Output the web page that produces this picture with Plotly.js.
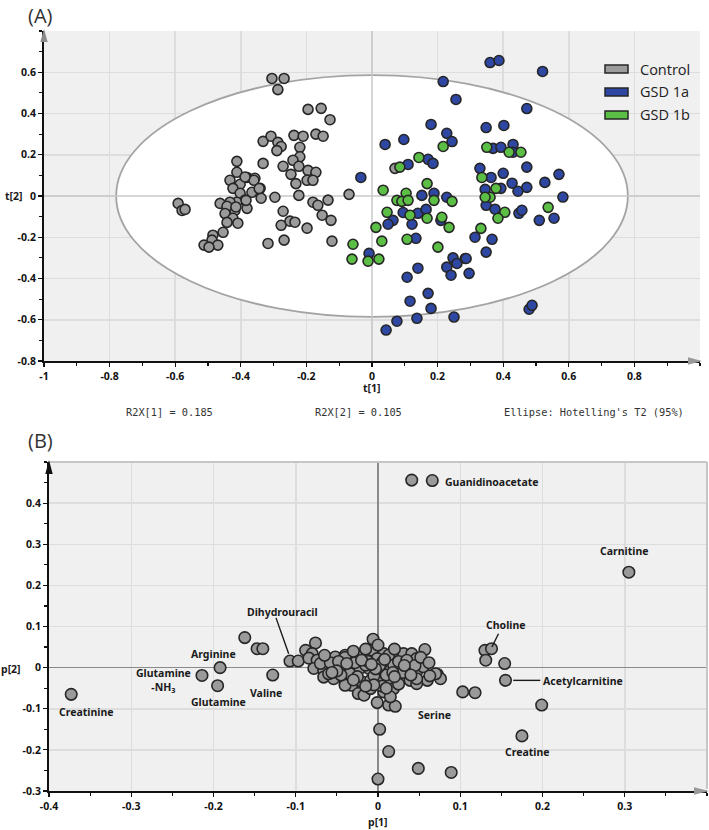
<!DOCTYPE html>
<html>
<head>
<meta charset="utf-8">
<script src="https://cdn.plot.ly/plotly-3.0.1.min.js"></script>
<style>html,body{margin:0;padding:0;background:#fff;}#chart{width:709px;height:830px;}</style>
</head>
<body>
<div id="chart"></div>
<script>
// ---------- Panel A: scores t[1] / t[2] ----------
const groupNames = ["Control", "GSD 1a", "GSD 1b"];
const groupColors = ["#9b9b9b", "#2e47a3", "#5cbf45"];

const controlT1 = [-0.305,-0.268,-0.287,-0.195,-0.155,-0.128,-0.332,-0.308,-0.287,-0.277,-0.290,-0.238,-0.210,-0.171,-0.149,-0.220,-0.220,-0.412,-0.412,-0.332,-0.271,-0.241,-0.223,-0.247,-0.232,-0.195,-0.171,-0.198,-0.180,-0.433,-0.402,-0.424,-0.381,-0.357,-0.360,-0.341,-0.366,-0.402,-0.338,-0.387,-0.412,-0.381,-0.418,-0.433,-0.463,-0.442,-0.448,-0.424,-0.409,-0.442,-0.454,-0.485,-0.488,-0.470,-0.512,-0.497,-0.591,-0.579,-0.570,-0.296,-0.223,-0.271,-0.277,-0.250,-0.235,-0.198,-0.180,-0.165,-0.134,-0.152,-0.125,-0.317,-0.268,-0.122,-0.070,0.070,-0.387,-0.344,-0.384,-0.415];
const controlT2 = [0.570,0.570,0.516,0.420,0.425,0.370,0.265,0.290,0.260,0.240,0.220,0.294,0.290,0.300,0.290,0.236,0.190,0.168,0.115,0.158,0.144,0.173,0.144,0.105,0.060,0.124,0.115,0.076,0.076,0.076,0.057,0.037,0.090,0.086,0.076,0.037,0.018,0.013,-0.011,-0.020,-0.030,-0.060,-0.070,-0.030,-0.036,-0.050,-0.085,-0.108,-0.132,-0.128,-0.176,-0.190,-0.214,-0.238,-0.238,-0.248,-0.036,-0.070,-0.065,-0.006,0.003,-0.074,-0.142,-0.122,-0.127,-0.156,-0.030,-0.045,-0.020,-0.093,-0.118,-0.230,-0.214,-0.219,0.008,0.134,0.092,0.036,-0.021,-0.053];

const gsd1aT1 = [0.360,0.387,0.520,0.217,0.256,0.472,0.180,0.348,0.402,0.040,0.097,0.228,0.244,0.171,0.186,0.110,0.369,0.393,0.430,0.430,0.472,0.329,0.363,0.400,0.427,0.445,0.472,0.527,0.570,0.582,0.345,0.393,0.348,0.375,0.448,0.457,0.510,0.555,-0.034,0.152,0.189,0.228,0.095,0.064,0.049,0.122,0.140,0.165,0.210,0.134,0.314,0.366,0.348,-0.009,0.107,0.140,0.247,0.259,0.284,0.228,0.241,0.171,0.116,0.180,0.137,0.076,0.043,0.250,0.287,0.296,0.479,0.488];
const gsd1aT2 = [0.647,0.657,0.604,0.555,0.468,0.424,0.347,0.332,0.342,0.250,0.274,0.304,0.264,0.178,0.158,0.153,0.231,0.236,0.250,0.212,0.140,0.134,0.090,0.110,0.062,0.023,0.042,0.066,0.105,-0.005,0.032,0.037,-0.045,-0.064,-0.084,-0.069,-0.118,-0.108,0.090,0.003,0.013,-0.006,-0.080,-0.118,-0.137,-0.137,-0.084,-0.065,-0.118,-0.205,-0.200,-0.210,-0.272,-0.278,-0.394,-0.350,-0.300,-0.327,-0.303,-0.345,-0.384,-0.472,-0.510,-0.545,-0.593,-0.607,-0.650,-0.587,-0.303,-0.375,-0.549,-0.530];

const gsd1bT1 = [0.217,0.143,0.085,0.034,0.168,0.104,0.076,0.091,0.110,0.189,0.244,0.046,0.116,0.168,0.213,0.235,0.012,0.030,0.107,0.201,-0.058,-0.061,-0.012,0.021,0.350,0.418,0.454,0.335,0.378,0.360,0.345,0.405,0.384,0.537,0.332];
const gsd1bT2 = [0.240,0.187,0.140,0.028,0.060,0.013,-0.021,-0.026,-0.021,-0.021,-0.026,-0.079,-0.093,-0.108,-0.103,-0.152,-0.152,-0.219,-0.210,-0.248,-0.234,-0.306,-0.316,-0.306,0.236,0.212,0.212,0.090,0.037,-0.006,-0.006,-0.079,-0.108,-0.055,-0.157];

const t1TickVals = [-1,-0.8,-0.6,-0.4,-0.2,0,0.2,0.4,0.6,0.8];
const t1TickText = ["-1","-0.8","-0.6","-0.4","-0.2","0","0.2","0.4","0.6","0.8"];
const t2TickVals = [-0.8,-0.6,-0.4,-0.2,0,0.2,0.4,0.6];
const t2TickText = ["-0.8","-0.6","-0.4","-0.2","0","0.2","0.4","0.6"];
const ellipseSemiAxes = [0.78, 0.586];
const footnotes = ["R2X[1] = 0.185", "R2X[2] = 0.105", "Ellipse: Hotelling's T2 (95%)"];

// ---------- Panel B: loadings p[1] / p[2] ----------
const loadP1 = [0.041,0.066,0.305,-0.373,-0.214,-0.192,-0.195,-0.162,-0.147,-0.140,-0.128,-0.107,-0.097,0.130,0.138,0.131,0.154,0.155,0.103,0.118,0.199,0.175,0.002,0.013,0.049,0.089,0.000,-0.001,0.013,0.021,0.072,0.076,
 -0.076,-0.006,0.057,-0.088,-0.080,-0.084,-0.074,-0.062,-0.052,-0.040,-0.032,-0.019,-0.010,-0.001,0.007,0.017,0.031,0.041,0.047,0.055,0.070,-0.078,-0.066,-0.054,-0.044,-0.034,-0.022,-0.011,0.001,0.011,0.023,0.037,0.047,0.060,-0.066,-0.054,-0.040,-0.032,-0.019,-0.009,0.003,0.015,0.027,0.039,0.047,-0.024,-0.017,-0.009,0.007,0.019,0.015,-0.040,-0.034,-0.022,-0.015,-0.007,-0.001,0.003,0.013,0.019,0.047,0.055,-0.040,
 -0.070,-0.058,-0.048,-0.028,-0.012,0.005,0.025,0.035,-0.005,0.010,0.030,-0.025,-0.045,0.000,0.002,-0.003,0.005,-0.005,0.025,-0.060,0.045,0.063,0.000,-0.015,0.020,-0.030,
 -0.050,-0.038,-0.020,-0.008,0.008,0.018,0.032,0.040,-0.015,0.010,-0.030,0.020,0.052,0.062,-0.065,-0.056];
const loadP2 = [0.456,0.455,0.232,-0.065,-0.019,0.000,-0.044,0.073,0.046,0.046,-0.018,0.016,0.016,0.042,0.046,0.018,0.010,-0.031,-0.059,-0.061,-0.091,-0.166,-0.150,-0.204,-0.245,-0.255,-0.271,-0.085,-0.091,-0.094,-0.016,-0.027,
 0.060,0.069,0.044,0.042,0.034,0.023,0.018,0.022,0.026,0.030,0.023,0.030,0.034,0.042,0.034,0.030,0.034,0.034,0.022,0.006,-0.015,-0.002,-0.007,-0.002,0.002,-0.010,-0.002,-0.002,-0.007,-0.002,-0.002,-0.004,-0.010,-0.031,-0.023,-0.027,-0.039,-0.043,-0.035,-0.031,-0.035,-0.031,-0.027,-0.031,-0.039,-0.063,-0.067,-0.051,-0.059,-0.051,-0.071,0.025,-0.015,0.026,0.006,0.042,0.022,-0.010,0.030,0.006,-0.027,0.002,-0.043,
 0.010,0.012,0.015,0.012,0.015,0.012,0.015,0.018,-0.020,-0.018,-0.012,-0.022,-0.018,0.000,0.005,-0.003,-0.045,-0.042,-0.040,-0.015,0.005,-0.020,0.055,0.045,0.045,0.040,
 -0.008,0.010,0.018,0.008,0.020,-0.012,0.005,-0.018,-0.045,-0.050,-0.030,-0.022,0.025,0.012,0.030,-0.012];

const p1TickVals = [-0.4,-0.3,-0.2,-0.1,0,0.1,0.2,0.3];
const p1TickText = ["-0.4","-0.3","-0.2","-0.1","0","0.1","0.2","0.3"];
const p2TickVals = [-0.3,-0.2,-0.1,0,0.1,0.2,0.3,0.4];
const p2TickText = ["-0.3","-0.2","-0.1","0","0.1","0.2","0.3","0.4"];

// labels: [text, p1, p2, xanchor]
const metaboliteLabels = [
  ["Guanidinoacetate", 0.0785, 0.451, "left"],
  ["Carnitine", 0.2996, 0.2826, "center"],
  ["Dihydrouracil", -0.1157, 0.1349, "center"],
  ["Arginine", -0.2001, 0.0322, "center"],
  ["Glutamine<br>-NH<sub>3</sub>", -0.2603, -0.0325, "center"],
  ["Glutamine", -0.1943, -0.084, "center"],
  ["Valine", -0.136, -0.0613, "center"],
  ["Creatinine", -0.355, -0.109, "center"],
  ["Choline", 0.1555, 0.104, "center"],
  ["Acetylcarnitine", 0.1984, -0.032, "left"],
  ["Serine", 0.0688, -0.1155, "center"],
  ["Creatine", 0.1823, -0.204, "center"]
];
// leader lines: [p1a, p2a, p1b, p2b]
const leaderLines = [
  [-0.124, 0.121, -0.1086, 0.0339],
  [0.1465, 0.0823, 0.1385, 0.050],
  [0.1644, -0.031, 0.1973, -0.031]
];

// ---------- helpers (pixel -> paper) ----------
const W = 709, H = 830;
const PX = p => p / W;
const PY = p => 1 - p / H;
function tri(a, b, c) {
  return `M ${PX(a[0])},${PY(a[1])} L ${PX(b[0])},${PY(b[1])} L ${PX(c[0])},${PY(c[1])} Z`;
}

const tickFont = {family: "Noto Sans", size: 10.5, color: "#111", weight: "bold"};
const mk = (c, s) => ({size: s, color: c, line: {color: "#262626", width: 1.6}});

const traces = [
  {x: controlT1, y: controlT2, type: "scatter", mode: "markers", marker: mk(groupColors[0], 10), xaxis: "x", yaxis: "y", name: groupNames[0]},
  {x: gsd1aT1, y: gsd1aT2, type: "scatter", mode: "markers", marker: mk(groupColors[1], 10), xaxis: "x", yaxis: "y", name: groupNames[1]},
  {x: gsd1bT1, y: gsd1bT2, type: "scatter", mode: "markers", marker: mk(groupColors[2], 10), xaxis: "x", yaxis: "y", name: groupNames[2]},
  {x: loadP1, y: loadP2, type: "scatter", mode: "markers", marker: mk("#9a9a9a", 11.5), xaxis: "x2", yaxis: "y2", name: "loadings"}
];

const axisCommon = {
  showline: true, linecolor: "#111", linewidth: 2, ticks: "outside", ticklen: 4, tickwidth: 1.2, tickcolor: "#111",
  tickfont: tickFont, showgrid: true, gridcolor: "#dddddd", gridwidth: 1.5, tickmode: "array", fixedrange: true
};

const shapes = [
  {type: "circle", xref: "x", yref: "y", x0: -ellipseSemiAxes[0], x1: ellipseSemiAxes[0], y0: -ellipseSemiAxes[1], y1: ellipseSemiAxes[1],
   fillcolor: "#ffffff", line: {color: "#a3a3a3", width: 1.8}, layer: "between"},
  {type: "line", xref: "x", yref: "y", x0: -1, x1: 1, y0: 0, y1: 0, line: {color: "#c9c9c9", width: 1.5}, layer: "between"},
  {type: "line", xref: "x", yref: "y", x0: 0, x1: 0, y0: -0.8, y1: 0.8, line: {color: "#c9c9c9", width: 1.5}, layer: "between"},
  {type: "line", xref: "paper", yref: "paper", x0: PX(49), x1: PX(707), y0: PY(462), y1: PY(462), line: {color: "#c6c6c6", width: 2}},
  {type: "line", xref: "paper", yref: "paper", x0: PX(707), x1: PX(707), y0: PY(462), y1: PY(789), line: {color: "#c6c6c6", width: 2}},
  {type: "path", xref: "paper", yref: "paper", path: tri([44, 29], [40.3, 42], [47.7, 42]), fillcolor: "#8c8c8c", line: {width: 0}},
  {type: "path", xref: "paper", yref: "paper", path: tri([702, 361], [688, 357.3], [688, 364.7]), fillcolor: "#999999", line: {width: 0}},
  {type: "path", xref: "paper", yref: "paper", path: tri([49, 460], [45.3, 474], [52.7, 474]), fillcolor: "#111111", line: {width: 0}},
  {type: "path", xref: "paper", yref: "paper", path: tri([709, 791], [694, 787.3], [694, 794.7]), fillcolor: "#999999", line: {width: 0}}
];
const legendRows = [69, 92, 115];
groupNames.forEach((g, i) => {
  shapes.push({type: "rect", xref: "paper", yref: "paper", x0: PX(605), x1: PX(628), y0: PY(legendRows[i] - 4), y1: PY(legendRows[i] + 4),
    fillcolor: groupColors[i], line: {color: "#262626", width: 1.5}});
});
leaderLines.forEach(l => {
  shapes.push({type: "line", xref: "x2", yref: "y2", x0: l[0], y0: l[1], x1: l[2], y1: l[3], line: {color: "#1a1a1a", width: 1.4}});
});

const annotations = [];
function ptext(text, px, py, xanchor, font) {
  annotations.push({text, x: PX(px), y: PY(py), xref: "paper", yref: "paper", xanchor: xanchor || "center", yanchor: "middle", showarrow: false, font});
}
const bold = s => ({family: "Noto Sans", size: s, color: "#1a1a1a", weight: "bold"});
ptext("(A)", 26, 15, "left", {family: "Open Sans", size: 20, color: "#333"});
ptext("(B)", 26, 440, "left", {family: "Open Sans", size: 20, color: "#333"});
ptext("t[1]", 372, 388, "center", bold(10.5));
ptext("t[2]", 14, 196, "center", bold(10.5));
ptext("p[1]", 378, 822, "center", bold(10.5));
ptext("p[2]", 11, 669, "center", bold(10.5));
const mono = {family: "DejaVu Sans Mono", size: 10.3, color: "#333"};
ptext(footnotes[0], 124, 412, "left", mono);
ptext(footnotes[1], 313, 412, "left", mono);
ptext(footnotes[2], 502, 412, "left", mono);
groupNames.forEach((g, i) => ptext(g, 638, legendRows[i], "left", {family: "Open Sans", size: 14.5, color: "#222"}));
metaboliteLabels.forEach(m => {
  annotations.push({text: m[0], x: m[1], y: m[2], xref: "x2", yref: "y2", xanchor: m[3], yanchor: "middle", showarrow: false,
    font: bold(10.5)});
});

const layout = {
  width: W, height: H, margin: {l: 0, r: 0, t: 0, b: 0}, paper_bgcolor: "#ffffff", plot_bgcolor: "#f0f0f0",
  showlegend: false, font: {family: "Noto Sans", color: "#1a1a1a"},
  xaxis: Object.assign({}, axisCommon, {domain: [PX(44), PX(700)], range: [-1, 1], tickvals: t1TickVals, ticktext: t1TickText, zeroline: false,
    minor: {tickmode: "linear", tick0: -1, dtick: 0.1, ticks: "outside", ticklen: 3, tickcolor: "#111", showgrid: false}, anchor: "y"}),
  yaxis: Object.assign({}, axisCommon, {domain: [1 - 361 / H, 1 - 31 / H], range: [-0.8, 0.8], tickvals: t2TickVals, ticktext: t2TickText, zeroline: false,
    minor: {tickmode: "linear", tick0: -0.8, dtick: 0.1, ticks: "outside", ticklen: 3, tickcolor: "#111", showgrid: false}, anchor: "x"}),
  xaxis2: Object.assign({}, axisCommon, {domain: [PX(49), PX(707)], range: [-0.4, 0.4], tickvals: p1TickVals, ticktext: p1TickText,
    zeroline: true, zerolinecolor: "#8a8a8a", zerolinewidth: 1.6,
    minor: {tickmode: "linear", tick0: -0.4, dtick: 0.05, ticks: "outside", ticklen: 3, tickcolor: "#111", showgrid: false}, anchor: "y2"}),
  yaxis2: Object.assign({}, axisCommon, {domain: [1 - 791 / H, 1 - 462 / H], range: [-0.3, 0.5], tickvals: p2TickVals, ticktext: p2TickText,
    zeroline: true, zerolinecolor: "#8a8a8a", zerolinewidth: 1.6,
    minor: {tickmode: "linear", tick0: -0.3, dtick: 0.05, ticks: "outside", ticklen: 3, tickcolor: "#111", showgrid: false}, anchor: "x2"}),
  shapes, annotations
};

Plotly.newPlot("chart", traces, layout, {staticPlot: true, displayModeBar: false});
</script>
</body>
</html>
